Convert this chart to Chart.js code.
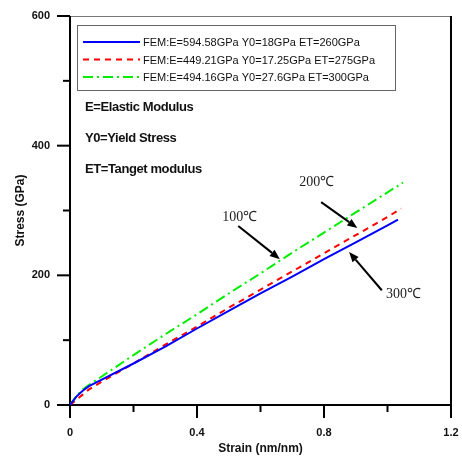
<!DOCTYPE html>
<html>
<head>
<meta charset="utf-8">
<script src="https://cdn.jsdelivr.net/npm/chart.js@4.4.1/dist/chart.umd.min.js"></script>
<style>
html, body { margin: 0; padding: 0; background: #fff; }
</style>
</head>
<body>
<canvas id="chart" width="462" height="460"></canvas>
<script>
// --- data ---
const labels100 = 'FEM:E=594.58GPa Y0=18GPa ET=260GPa';
const labels200 = 'FEM:E=449.21GPa Y0=17.25GPa ET=275GPa';
const labels300 = 'FEM:E=494.16GPa Y0=27.6GPa ET=300GPa';

const strainBlue = [0, 0.02, 0.04, 0.06, 0.1, 0.2, 0.3, 0.4, 0.5, 0.6, 0.7, 0.8, 0.9, 1.0, 1.033];
const stressBlue = [0, 13, 22, 29, 39, 64, 90, 118, 145, 172, 198, 225, 251, 277, 286];

const strainRed = [0, 0.02, 0.04, 0.06, 0.1, 0.2, 0.3, 0.4, 0.5, 0.6, 0.7, 0.8, 0.9, 1.0, 1.043];
const stressRed = [0, 8, 16, 24, 36, 64, 93, 121, 150, 178, 206, 234, 262, 290, 303];

const strainGreen = [0, 0.02, 0.04, 0.06, 0.1, 0.2, 0.3, 0.4, 0.5, 0.6, 0.7, 0.8, 0.9, 1.0, 1.049];
const stressGreen = [0, 14, 24, 31, 44, 77, 109, 140, 172, 203, 235, 266, 297, 328, 343];

const xMajor = [0, 0.4, 0.8, 1.2];
const xMinor = [0.2, 0.6, 1.0];
const yMajor = [0, 200, 400, 600];
const yMinor = [100, 300, 500];

const notes = ['E=Elastic Modulus', 'Y0=Yield Stress', 'ET=Tanget modulus'];

// temperature callouts: label position and arrow tail -> tip, in data units
const callouts = [
  { text: '100\u2103', at: [0.535, 290], from: [0.530, 276], to: [0.661, 225] },
  { text: '200\u2103', at: [0.777, 344], from: [0.791, 313], to: [0.905, 273] },
  { text: '300\u2103', at: [1.050, 170], from: [0.982, 177], to: [0.879, 236] }
];

const SANS = "'Liberation Sans', Arial, sans-serif";
const SERIF = "'Liberation Serif', 'Times New Roman', serif";

function pairs(xs, ys) {
  return xs.map((v, i) => ({ x: v, y: ys[i] }));
}

function seg(ctx, x1, y1, x2, y2) {
  ctx.beginPath();
  ctx.moveTo(x1, y1);
  ctx.lineTo(x2, y2);
  ctx.stroke();
}

function arrow(ctx, x1, y1, x2, y2) {
  const ang = Math.atan2(y2 - y1, x2 - x1);
  const hl = 10, hw = 4;
  const bx = x2 - hl * Math.cos(ang), by = y2 - hl * Math.sin(ang);
  ctx.lineWidth = 2;
  seg(ctx, x1, y1, bx, by);
  ctx.beginPath();
  ctx.moveTo(x2, y2);
  ctx.lineTo(bx + hw * Math.sin(ang), by - hw * Math.cos(ang));
  ctx.lineTo(bx - hw * Math.sin(ang), by + hw * Math.cos(ang));
  ctx.closePath();
  ctx.fill();
}

// axes, ticks and frame drawn under the curves
const axesPlugin = {
  id: 'axesPlugin',
  beforeDatasetsDraw(chart) {
    const { ctx, chartArea: a, scales: { x, y } } = chart;
    ctx.save();
    // thin top border
    ctx.strokeStyle = '#777';
    ctx.lineWidth = 1;
    seg(ctx, a.left, a.top + 0.5, a.right, a.top + 0.5);
    ctx.strokeStyle = '#000';
    ctx.lineWidth = 2;
    seg(ctx, a.left, a.top, a.left, a.bottom);
    seg(ctx, a.left, a.bottom, a.right, a.bottom);
    seg(ctx, a.right, a.top, a.right, a.bottom);
    yMajor.forEach(v => { const p = y.getPixelForValue(v); seg(ctx, a.left - 13, p, a.left, p); });
    yMinor.forEach(v => { const p = y.getPixelForValue(v); seg(ctx, a.left - 7, p, a.left, p); });
    xMajor.forEach(v => { const p = x.getPixelForValue(v); seg(ctx, p, a.bottom, p, a.bottom + 13); });
    xMinor.forEach(v => { const p = x.getPixelForValue(v); seg(ctx, p, a.bottom, p, a.bottom + 7); });
    ctx.restore();
  },
  afterDatasetsDraw(chart) {
    const { ctx, chartArea: a, scales: { x, y } } = chart;
    ctx.save();

    // legend box
    const bx = a.left + 7, by = a.top + 9, bw = 318, bh = 65;
    ctx.strokeStyle = '#666';
    ctx.lineWidth = 1;
    ctx.strokeRect(bx + 0.5, by + 0.5, bw, bh);
    ctx.font = '11px ' + SANS;
    ctx.textBaseline = 'middle';
    ctx.textAlign = 'left';
    ctx.fillStyle = '#111';
    chart.data.datasets.forEach((ds, i) => {
      const ry = by + 17 + i * 17.5;
      ctx.strokeStyle = ds.borderColor;
      ctx.lineWidth = ds.borderWidth;
      ctx.setLineDash(ds.borderDash || []);
      seg(ctx, bx + 6, ry, bx + 63, ry);
      ctx.setLineDash([]);
      ctx.fillText(ds.label, bx + 66, ry + 1);
    });

    // definitions
    ctx.font = 'bold 13px ' + SANS;
    ctx.letterSpacing = '-0.4px';
    notes.forEach((t, i) => ctx.fillText(t, a.left + 15, a.top + 91 + i * 31));
    ctx.letterSpacing = '0px';

    // temperature callouts
    ctx.fillStyle = '#222';
    ctx.strokeStyle = '#000';
    ctx.font = '14px ' + SERIF;
    ctx.textAlign = 'center';
    callouts.forEach(c => {
      ctx.fillText(c.text, x.getPixelForValue(c.at[0]), y.getPixelForValue(c.at[1]));
      ctx.fillStyle = '#000';
      arrow(ctx, x.getPixelForValue(c.from[0]), y.getPixelForValue(c.from[1]),
        x.getPixelForValue(c.to[0]), y.getPixelForValue(c.to[1]));
      ctx.fillStyle = '#222';
    });
    ctx.restore();
  }
};

const tickFont = { family: SANS, size: 11, weight: 'bold' };
const titleFont = { family: SANS, size: 12, weight: 'bold' };

new Chart(document.getElementById('chart'), {
  type: 'line',
  data: {
    datasets: [
      { label: labels100, data: pairs(strainBlue, stressBlue), borderColor: '#0000ff', borderWidth: 2 },
      { label: labels200, data: pairs(strainRed, stressRed), borderColor: '#ff0000', borderWidth: 2, borderDash: [6, 5] },
      { label: labels300, data: pairs(strainGreen, stressGreen), borderColor: '#00ee00', borderWidth: 2, borderDash: [10, 4, 2, 4] }
    ]
  },
  options: {
    responsive: false,
    animation: false,
    events: [],
    layout: { autoPadding: false, padding: { top: 16, right: 11, left: 0, bottom: 0 } },
    elements: { point: { radius: 0 }, line: { tension: 0, fill: false } },
    plugins: { legend: { display: false }, tooltip: { enabled: false } },
    scales: {
      x: {
        type: 'linear', min: 0, max: 1.2,
        afterBuildTicks: s => { s.ticks = xMajor.map(v => ({ value: v })); },
        afterFit: s => { s.height = 55; s.paddingLeft = 0; s.paddingRight = 0; },
        ticks: { font: tickFont, color: '#111', padding: 21, maxRotation: 0, callback: v => String(v) },
        grid: { display: false, drawTicks: false },
        border: { display: false },
        title: { display: true, text: 'Strain (nm/nm)', font: titleFont, color: '#111', padding: { top: 0, bottom: 4 } }
      },
      y: {
        type: 'linear', min: 0, max: 600,
        afterBuildTicks: s => { s.ticks = yMajor.map(v => ({ value: v })); },
        afterFit: s => { s.width = 70; s.paddingTop = 0; s.paddingBottom = 0; },
        ticks: { font: tickFont, color: '#111', padding: 20, callback: v => String(v) },
        grid: { display: false, drawTicks: false },
        border: { display: false },
        title: { display: true, text: 'Stress (GPa)', font: titleFont, color: '#111', padding: { top: 13, bottom: 0 } }
      }
    }
  },
  plugins: [axesPlugin]
});
</script>
</body>
</html>
